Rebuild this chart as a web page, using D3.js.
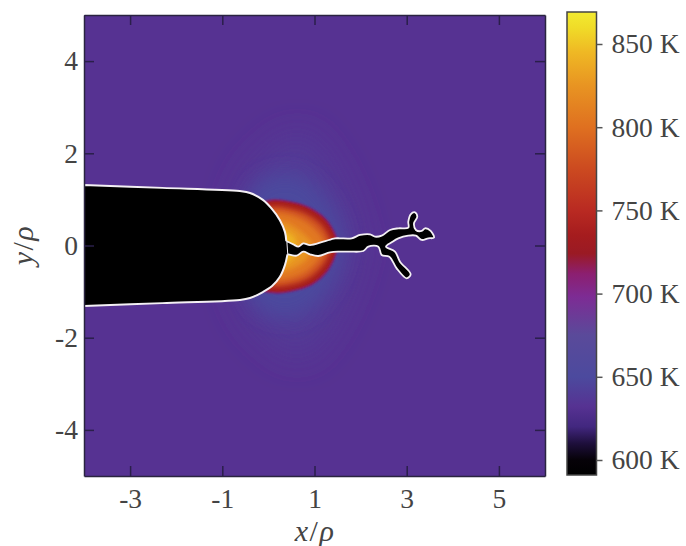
<!DOCTYPE html>
<html>
<head>
<meta charset="utf-8">
<script src="https://cdn.jsdelivr.net/npm/d3@7"></script>
<style>
  html, body { margin: 0; padding: 0; background: #fff; }
  text { font-family: "Liberation Serif", serif; fill: #444; }
</style>
</head>
<body>
<svg id="chart" width="686" height="546"></svg>
<script>
var xTicks = [-3, -1, 1, 3, 5];
var yTicks = [-4, -2, 0, 2, 4];
var barTicks = [600, 650, 700, 750, 800, 850];

// colormap
var cmapTemps = [591, 600, 610, 620, 632, 650, 675, 698, 712, 724, 735, 750, 775, 800, 825, 845, 860, 869];
var cmapColors = ["#000000", "#060208", "#1e0f3c", "#42277f", "#563292", "#4c4a9e", "#5a4a9a", "#7d2c94",
                  "#8c1f70", "#9a1a24", "#a51c1e", "#b92a22", "#cc4a20", "#df7020", "#e89422", "#efb824", "#f0dc28", "#f2ea30"];

var backgroundTemp = 632;

// isotherms, [x, y] in units of rho
var haloOuter = [[-0.6, 1.2], [0.1, 2.1], [0.7, 2.4], [1.3, 1.8], [1.8, 0.7], [1.95, 0], [1.8, -0.7], [1.3, -1.8], [0.7, -2.4], [0.1, -2.1], [-0.6, -1.2]];
var haloInner = [[-0.4, 1.15], [0.2, 1.55], [0.8, 1.45], [1.4, 0.8], [1.65, 0], [1.4, -0.8], [0.8, -1.45], [0.2, -1.55], [-0.4, -1.15]];
var rimPurple = [[-0.6, 0.6], [-0.02, 0.98], [0.43, 0.966], [0.886, 0.836], [1.25, 0.58], [1.475, 0.2], [1.5, 0], [1.475, -0.18], [1.29, -0.56], [0.96, -0.85], [0.51, -0.996], [0.07, -1.03], [-0.6, -0.75]];
var rimRed = [[-0.6, 0.55], [-0.002, 0.95], [0.43, 0.936], [0.866, 0.806], [1.227, 0.553], [1.444, 0.191], [1.47, 0], [1.444, -0.17], [1.264, -0.532], [0.938, -0.821], [0.504, -0.966], [0.07, -1.0], [-0.6, -0.7]];
var bandOrange = [[-0.6, 0.45], [0, 0.83], [0.42, 0.816], [0.8, 0.7], [1.13, 0.47], [1.33, 0.16], [1.35, 0], [1.33, -0.15], [1.16, -0.46], [0.86, -0.72], [0.48, -0.85], [0.07, -0.88], [-0.6, -0.6]];
var bandAmber = [[-0.5, 0.35], [0.03, 0.7], [0.4, 0.69], [0.72, 0.58], [1.0, 0.38], [1.2, 0.12], [1.22, 0], [1.2, -0.12], [1.04, -0.38], [0.78, -0.6], [0.46, -0.72], [0.1, -0.75], [-0.5, -0.5]];
var bandGold = [[0, 0.45], [0.35, 0.5], [0.6, 0.38], [0.82, 0.2], [0.95, 0.05], [0.95, -0.05], [0.85, -0.28], [0.62, -0.45], [0.38, -0.55], [0.1, -0.55]];
var bandYellow = [[0.15, 0.3], [0.38, 0.3], [0.55, 0.2], [0.62, 0], [0.55, -0.25], [0.38, -0.38], [0.15, -0.35]];
var isoTemps = [638, 650, 712, 735, 780, 805, 825, 842];
var isoBlur = ["softest", "softer", "soft", "soft", "mid", "mid", "mid", "mid"];
var isoLines = [haloOuter, haloInner, rimPurple, rimRed, bandOrange, bandAmber, bandGold, bandYellow];

var notchTop = [[-4, 1.31], [-2.3, 1.25], [-0.62, 1.18], [-0.4, 1.14], [-0.12, 0.99], [0.08, 0.79], [0.25, 0.55], [0.36, 0.29], [0.39, 0.08]];
var notchBottom = [[0.41, -0.21], [0.36, -0.42], [0.25, -0.68], [0.08, -0.88], [-0.12, -1.01], [-0.4, -1.14], [-0.62, -1.18], [-2.3, -1.25], [-4, -1.31]];

var crack = [[0.3, 0.09], [0.41, 0.083], [0.54, 0.025], [0.649, -0.026], [0.757, 0.047], [0.902, 0.01], [1.191, 0.083], [1.444, 0.155],
  [1.553, 0.156], [1.806, 0.156], [1.987, 0.228], [2.204, 0.243], [2.312, 0.192], [2.457, 0.214], [2.638, 0.337], [2.818, 0.373],
  [3.035, 0.387], [3.035, 0.517], [3.086, 0.677], [3.18, 0.72], [3.23, 0.626], [3.158, 0.481], [3.2, 0.337], [3.325, 0.315],
  [3.397, 0.373], [3.52, 0.315], [3.592, 0.17], [3.469, 0.156], [3.325, 0.12], [3.2, 0.214], [3.035, 0.214], [2.818, 0.156],
  [2.674, 0.069], [2.551, -0.025], [2.746, -0.133], [2.855, -0.35], [3.086, -0.625], [2.999, -0.712], [2.782, -0.495], [2.623, -0.242],
  [2.457, -0.206], [2.385, -0.025], [2.168, -0.025], [2.059, -0.119], [1.77, -0.133], [1.553, -0.133], [1.336, -0.149], [1.083, -0.228],
  [0.902, -0.192], [0.757, -0.134], [0.613, -0.221], [0.432, -0.192], [0.3, -0.19]];

var svg = d3.select("#chart");

var x = d3.scaleLinear().domain([-4, 6]).range([84, 545]);
var y = d3.scaleLinear().domain([-5, 5]).range([476, 15]);
var barY = d3.scaleLinear().domain([600, 850]).range([460, 44]);
var color = d3.scaleLinear().domain(cmapTemps).range(cmapColors);

var line = d3.line().x(function(d){ return x(d[0]); }).y(function(d){ return y(d[1]); });
var blobPath = function(d){ return line.curve(d3.curveCatmullRomClosed)(d); };
var edgePath = function(d){ return line.curve(d3.curveCatmullRom)(d); };

var notchPath = edgePath(notchTop) + "L" + edgePath(notchBottom).slice(1) + "Z";

var defs = svg.append("defs");
defs.append("clipPath").attr("id", "plotClip").append("rect")
    .attr("x", 84).attr("y", 15).attr("width", 461).attr("height", 461);
defs.append("clipPath").attr("id", "notchClip").append("path").attr("d", notchPath);

var blurs = { soft: 1.2, mid: 2.5, softer: 10, softest: 16 };
Object.keys(blurs).forEach(function(k){
  defs.append("filter").attr("id", k)
      .attr("x", "-60%").attr("y", "-60%").attr("width", "220%").attr("height", "220%")
      .append("feGaussianBlur").attr("stdDeviation", blurs[k]);
});

var grad = defs.append("linearGradient").attr("id", "barGrad")
    .attr("x1", 0).attr("y1", 1).attr("x2", 0).attr("y2", 0);
grad.selectAll("stop")
    .data(cmapTemps)
    .enter()
    .append("stop")
      .attr("offset", function(d){ return (475 - barY(d)) / 463; })
      .attr("stop-color", function(d){ return color(d); });

var plot = svg.append("g").attr("clip-path", "url(#plotClip)");

plot.append("rect")
    .attr("x", 84).attr("y", 15).attr("width", 461).attr("height", 461)
    .attr("fill", color(backgroundTemp));

plot.selectAll("path.iso")
    .data(isoLines)
    .enter()
    .append("path")
      .attr("class", "iso")
      .attr("d", blobPath)
      .attr("fill", function(d, i){ return color(isoTemps[i]); })
      .attr("filter", function(d, i){ return "url(#" + isoBlur[i] + ")"; });

plot.append("path")
    .attr("d", blobPath(crack))
    .attr("fill", "#000")
    .attr("stroke", "#f4f0f4")
    .attr("stroke-width", 1.8);

plot.append("path")
    .attr("d", notchPath)
    .attr("fill", "#000")
    .attr("stroke", "#f4f0f4")
    .attr("stroke-width", 2);

// opens the mouth of the crack into the notch
plot.append("g").attr("clip-path", "url(#notchClip)").append("path")
    .attr("d", blobPath(crack))
    .attr("fill", "#000");

// frame and ticks on all four sides
function styleAxis(g, hideText) {
  g.select(".domain").attr("stroke", "#2a2440").attr("stroke-width", 1.5);
  g.selectAll(".tick line").attr("stroke", "#2a1f4a").attr("stroke-width", 1.5);
  g.selectAll("text").attr("font-size", 27.5).attr("fill", "#444");
  if (hideText) g.selectAll("text").remove();
}

svg.append("g").attr("transform", "translate(0,476)")
    .call(d3.axisBottom(x).tickValues(xTicks).tickFormat(String).tickSize(-10).tickSizeOuter(0).tickPadding(12.5))
    .call(styleAxis, false);
svg.append("g").attr("transform", "translate(0,15)")
    .call(d3.axisTop(x).tickValues(xTicks).tickSize(-10).tickSizeOuter(0))
    .call(styleAxis, true);
svg.append("g").attr("transform", "translate(84,0)")
    .call(d3.axisLeft(y).tickValues(yTicks).tickFormat(String).tickSize(-10).tickSizeOuter(0).tickPadding(6))
    .call(styleAxis, false);
svg.append("g").attr("transform", "translate(545,0)")
    .call(d3.axisRight(y).tickValues(yTicks).tickSize(-10).tickSizeOuter(0))
    .call(styleAxis, true);

// colorbar
svg.append("rect")
    .attr("x", 567).attr("y", 12).attr("width", 29.5).attr("height", 463)
    .attr("fill", "url(#barGrad)").attr("stroke", "#444").attr("stroke-width", 1.5);

var barAxis = svg.append("g").attr("transform", "translate(596.5,0)")
    .call(d3.axisRight(barY).tickValues(barTicks).tickFormat(function(d){ return d + " K"; }).tickSize(6).tickPadding(9));
barAxis.select(".domain").remove();
barAxis.selectAll(".tick line").attr("stroke", "#555").attr("stroke-width", 1.5);
barAxis.selectAll("text").attr("font-size", 27.5).attr("fill", "#444");

// axis titles
var xTitle = svg.append("text").attr("x", 315).attr("y", 541).attr("text-anchor", "middle")
    .attr("font-size", 30).attr("letter-spacing", 1.5);
xTitle.append("tspan").attr("font-style", "italic").text("x");
xTitle.append("tspan").text("/");
xTitle.append("tspan").attr("font-style", "italic").text("ρ");

var yTitle = svg.append("text").attr("transform", "translate(33,245) rotate(-90)").attr("text-anchor", "middle")
    .attr("font-size", 30).attr("letter-spacing", 1.5);
yTitle.append("tspan").attr("font-style", "italic").text("y");
yTitle.append("tspan").text("/");
yTitle.append("tspan").attr("font-style", "italic").text("ρ");
</script>
</body>
</html>
